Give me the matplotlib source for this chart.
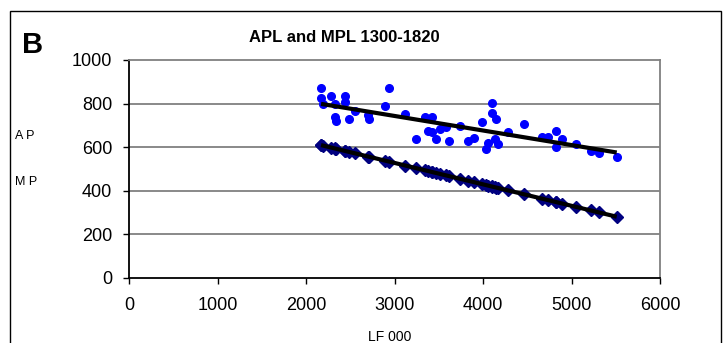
'''
APL and MPL 1300-1820 (panel B)
'''

import numpy as np
import matplotlib.pyplot as plt
from matplotlib.patches import Rectangle

plt.rcParams['font.family'] = ['Liberation Sans', 'DejaVu Sans']

# labour force (thousands) for each year in the sample
lf = [2170, 2170, 2284, 2193, 2329, 2443, 2443, 2329, 2341, 2488,
      2556, 2704, 2715, 2943, 2897, 3124, 3340, 3420, 3374, 3420,
      3238, 3465, 3510, 3613, 3578, 3738, 3829, 3897, 3988, 4101,
      4101, 4147, 4033, 4056, 4135, 4170, 4283, 4465, 4670, 4738,
      4829, 4829, 4897, 5056, 5215, 5306, 5511]

# average product of labour
apl = [872, 826, 835, 798, 798, 835, 807, 739, 720, 730,
       766, 748, 729, 872, 789, 752, 739, 739, 674, 670,
       638, 638, 683, 628, 693, 697, 628, 642, 716, 803,
       757, 729, 592, 619, 638, 615, 670, 706, 647, 647,
       674, 601, 638, 615, 583, 573, 555]

# marginal product of labour
mpl = [610, 609, 598, 607, 594, 583, 582, 595, 593, 578,
       572, 557, 556, 534, 538, 516, 495, 487, 491, 486,
       504, 482, 478, 468, 471, 455, 446, 440, 431, 420,
       419, 415, 426, 424, 416, 413, 402, 384, 364, 357,
       348, 349, 341, 326, 310, 301, 281]

x_ticks = [0, 1000, 2000, 3000, 4000, 5000, 6000]
y_ticks = [0, 200, 400, 600, 800, 1000]

W, H = 726, 343


def draw_graph():
    fig = plt.figure(figsize=(W / 100, H / 100), dpi=100)
    ax = fig.add_axes([129 / W, 1 - 278 / H, (660 - 129) / W, (278 - 60) / H])

    # gridlines
    for y in y_ticks[1:-1]:
        ax.axhline(y, color='#808080', lw=1.3, zorder=1)

    ax.plot(lf, mpl, 'D', color='#000080', markersize=6.5, zorder=3)
    ax.plot(lf, apl, 'o', color='#0000FF', markersize=5.5, zorder=3)

    # linear trendlines
    xs = np.array([min(lf), max(lf)])
    for series in (apl, mpl):
        k, b = np.polyfit(lf, series, 1)
        ax.plot(xs, k * xs + b, color='black', lw=3, zorder=4,
                solid_capstyle='butt')

    ax.set_xlim(0, 6000)
    ax.set_ylim(0, 1000)
    ax.set_xticks(x_ticks)
    ax.set_yticks(y_ticks)
    ax.tick_params(axis='both', direction='out', length=4, width=1,
                   labelsize=13, color='black')
    ax.tick_params(axis='x', pad=10)
    ax.tick_params(axis='y', pad=8)
    for s in ('top', 'right'):
        ax.spines[s].set_color('#808080')
        ax.spines[s].set_linewidth(1.3)
    for s in ('left', 'bottom'):
        ax.spines[s].set_color('black')
        ax.spines[s].set_linewidth(1.3)

    fig.text(22 / W, 1 - 53 / H, 'B', fontsize=21, fontweight='bold',
             ha='left', va='baseline')
    fig.text(344 / W, 1 - 38 / H, 'APL and MPL 1300-1820', fontsize=12,
             fontweight='bold', ha='center', va='center')
    fig.text(25 / W, 1 - 136 / H, 'A P', fontsize=9, ha='center', va='center')
    fig.text(26 / W, 1 - 182 / H, 'M P', fontsize=9, ha='center', va='center')
    fig.text(390 / W, 1 - 341 / H, 'LF 000', fontsize=10, ha='center',
             va='baseline')

    # chart area border
    fig.patches.append(Rectangle((10 / W, -0.1), (721 - 10) / W, 1 - 11 / H + 0.1,
                                 transform=fig.transFigure, fill=False,
                                 edgecolor='black', lw=1))

    fig.savefig('out.png', dpi=100)


if __name__ == '__main__':
    draw_graph()
